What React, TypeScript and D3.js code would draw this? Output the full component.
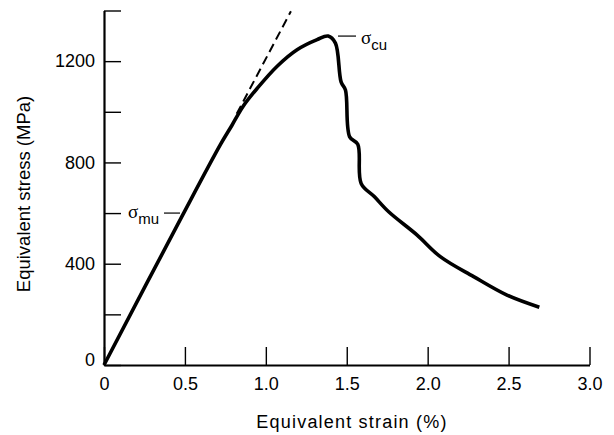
import React, { useEffect, useRef } from 'react';
import * as d3 from 'd3';

// values
const strain = [0, 0.48, 0.72, 0.79, 0.86, 0.946, 1.07, 1.193, 1.317, 1.385, 1.43, 1.465, 1.492, 1.518, 1.568, 1.589, 1.67, 1.759, 1.935, 2.078, 2.284, 2.49, 2.69];
const stress = [0, 585, 871, 946, 1022, 1092, 1180, 1245, 1285, 1299, 1271, 1118, 1086, 901, 872, 717, 665, 605, 513, 428, 349, 276, 228];

// dashed tangent (elastic line extension)
const tangentStrain = [0.82, 1.155];
const tangentStress = [992, 1397];

const xTicks = [0, 0.5, 1.0, 1.5, 2.0, 2.5, 3.0];
const yTicks = [0, 200, 400, 600, 800, 1000, 1200, 1400];
const yLabelled = [0, 400, 800, 1200];

const W = 614;
const H = 435;

const App: React.FC = () => {
  const ref = useRef<SVGSVGElement>(null);

  useEffect(() => {
    if (!ref.current) return;
    const svg = d3.select(ref.current);
    svg.selectAll('*').remove();

    const margin = { top: 10.5, right: 24.5, bottom: 70, left: 104 };
    const x = d3.scaleLinear().domain([0, 3]).range([margin.left, W - margin.right]);
    const y = d3.scaleLinear().domain([0, 1400]).range([H - margin.bottom, margin.top]);

    const font = "'Liberation Sans', Arial, Helvetica, sans-serif";

    // x axis, ticks pointing up
    const gx = svg.append('g')
      .attr('transform', `translate(0,${y(0)})`)
      .call(d3.axisBottom(x).tickValues(xTicks).tickSizeInner(-18).tickSizeOuter(0).tickPadding(12)
        .tickFormat(d => (d === 0 ? '0' : d3.format('.1f')(d as number))));
    gx.select('.domain').attr('stroke-width', 2.2);
    gx.selectAll('.tick line').attr('stroke-width', 1.4);
    gx.selectAll('.tick text').style('font-family', font).style('font-size', '18px').attr('fill', '#000');

    // y axis, ticks pointing right
    const gy = svg.append('g')
      .attr('transform', `translate(${x(0)},0)`)
      .call(d3.axisLeft(y).tickValues(yTicks).tickSizeInner(-17).tickSizeOuter(0).tickPadding(9)
        .tickFormat(d => (yLabelled.includes(d as number) ? String(d) : '')));
    gy.select('.domain').attr('stroke-width', 2.2);
    gy.selectAll('.tick line').attr('stroke-width', 1.4);
    gy.selectAll('.tick text').style('font-family', font).style('font-size', '18px').attr('fill', '#000');
    gy.selectAll('.tick').filter(d => d === 0).select('text').attr('dy', '0.05em');

    // curve
    const pts: [number, number][] = strain.map((s, i) => [s, stress[i]]);
    const line = d3.line<[number, number]>()
      .x(d => x(d[0]))
      .y(d => y(d[1]))
      .curve(d3.curveCatmullRom.alpha(0.5));
    svg.append('path')
      .datum(pts)
      .attr('d', line)
      .attr('fill', 'none')
      .attr('stroke', '#000')
      .attr('stroke-width', 3.6)
      .attr('stroke-linejoin', 'round');

    const tan: [number, number][] = tangentStrain.map((s, i) => [s, tangentStress[i]]);
    svg.append('path')
      .datum(tan)
      .attr('d', d3.line<[number, number]>().x(d => x(d[0])).y(d => y(d[1])))
      .attr('fill', 'none')
      .attr('stroke', '#000')
      .attr('stroke-width', 2)
      .attr('stroke-dasharray', '9,5');

    // annotations
    const sigma = (sub: string, sx: number, sy: number) => {
      const t = svg.append('text')
        .attr('x', sx)
        .attr('y', sy)
        .attr('fill', '#000');
      t.append('tspan')
        .style('font-family', "'Liberation Serif', 'Times New Roman', serif")
        .style('font-size', '19px')
        .text('σ');
      t.append('tspan')
        .attr('dy', 6)
        .style('font-family', font)
        .style('font-size', '15px')
        .text(sub);
    };

    // σmu with a small dash toward the line
    sigma('mu', 128, 218);
    svg.append('line')
      .attr('x1', 164).attr('x2', 180)
      .attr('y1', y(600)).attr('y2', y(600))
      .attr('stroke', '#000').attr('stroke-width', 1.2);

    // σcu beside the peak
    svg.append('line')
      .attr('x1', 338).attr('x2', 356)
      .attr('y1', y(1299)).attr('y2', y(1299))
      .attr('stroke', '#000').attr('stroke-width', 1.2);
    sigma('cu', 361, 44);

    // axis titles
    svg.append('text')
      .attr('x', 352)
      .attr('y', 428)
      .attr('text-anchor', 'middle')
      .style('font-family', font)
      .style('font-size', '18px')
      .style('letter-spacing', '1.2px')
      .attr('fill', '#000')
      .text('Equivalent strain (%)');

    svg.append('text')
      .attr('transform', `translate(30,194) rotate(-90)`)
      .attr('text-anchor', 'middle')
      .style('font-family', font)
      .style('font-size', '18.5px')
      .attr('fill', '#000')
      .text('Equivalent stress (MPa)');
  }, []);

  return (
    <svg
      ref={ref}
      width={W}
      height={H}
      style={{ position: 'absolute', left: 0, top: 0, background: '#fff' }}
    />
  );
};

export default App;
